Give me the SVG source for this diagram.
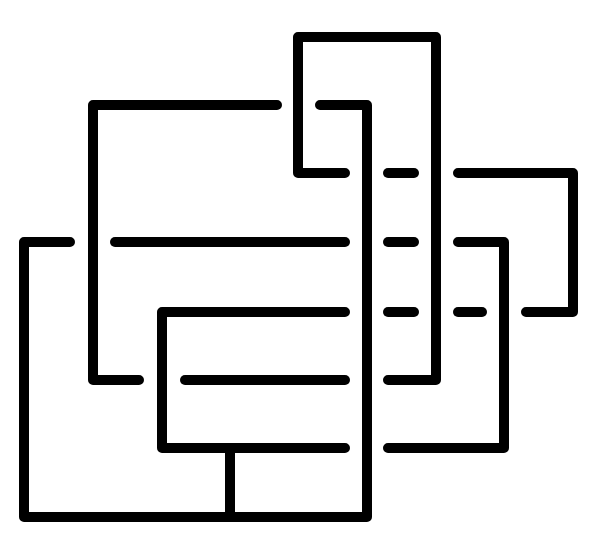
<svg xmlns="http://www.w3.org/2000/svg" width="602" height="539" viewBox="0 0 602 539">
<style>
.s{fill:none;stroke:#000;stroke-width:10;stroke-linecap:round;stroke-linejoin:round}
</style>
<rect width="602" height="539" fill="#fff"/>
<g id="strands" class="s">
<path d="M277,105 H93 V380 H139"/>
<path d="M320,105 H367 V517 H24 V242 H70"/>
<path d="M345,173 H298 V37 H436 V380 H388"/>
<path d="M458,173 H573 V312 H526"/>
<path d="M115,242 H345"/>
<path d="M388,173 H414"/>
<path d="M388,242 H414"/>
<path d="M388,312 H414"/>
<path d="M458,312 H482"/>
<path d="M458,242 H504 V448 H388"/>
<path d="M345,312 H162 V448 H345"/>
<path d="M185,380 H345"/>
<path d="M230,448 V517"/>
</g>
</svg>
